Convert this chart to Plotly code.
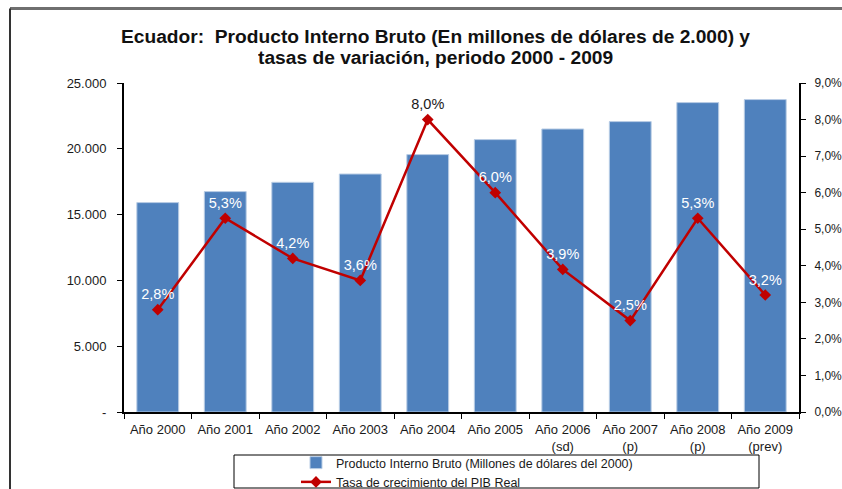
import plotly.graph_objects as go

categories = ["Año 2000", "Año 2001", "Año 2002", "Año 2003", "Año 2004",
              "Año 2005", "Año 2006<br>(sd)", "Año 2007<br>(p)", "Año 2008<br>(p)", "Año 2009<br>(prev)"]
pib = [15912, 16748, 17454, 18085, 19559, 20699, 21505, 22067, 23511, 23739]
tasa = [2.8, 5.3, 4.2, 3.6, 8.0, 6.0, 3.9, 2.5, 5.3, 3.2]
tasa_labels = ["2,8%", "5,3%", "4,2%", "3,6%", "8,0%", "6,0%", "3,9%", "2,5%", "5,3%", "3,2%"]
label_colors = ["white", "white", "white", "white", "#1a1a1a", "white", "white", "white", "white", "white"]

left_ticks = [0, 5000, 10000, 15000, 20000, 25000]
left_ticktext = ["-", "5.000", "10.000", "15.000", "20.000", "25.000"]
right_ticks = [0, 1, 2, 3, 4, 5, 6, 7, 8, 9]
right_ticktext = ["0,0%", "1,0%", "2,0%", "3,0%", "4,0%", "5,0%", "6,0%", "7,0%", "8,0%", "9,0%"]

title_line1 = "<b>Ecuador:  Producto Interno Bruto (En millones de dólares de 2.000) y</b>"
title_line2 = "<b>tasas de variación, periodo 2000 - 2009</b>"

FONT = "Liberation Sans, Arial, sans-serif"
W, H = 842, 489
L, R, T, B = 124, 43, 83, 77
PW, PH = W - L - R, H - T - B


def px(x):
    return (x - L) / PW


def py(y):
    return (H - B - y) / PH


fig = go.Figure()
fig.add_trace(go.Bar(
    x=categories, y=pib, name="Producto Interno Bruto (Millones de dólares del 2000)",
    marker=dict(color="#4F81BD", line=dict(color="#B9CDE5", width=1)),
    yaxis="y",
))
fig.add_trace(go.Scatter(
    x=categories, y=tasa, name="Tasa de crecimiento del PIB Real",
    mode="lines+markers+text", text=tasa_labels, textposition="top center",
    textfont=dict(color=label_colors, size=14.5, family=FONT),
    line=dict(color="#C00000", width=2.5),
    marker=dict(symbol="diamond", size=9, color="#C00000"),
    yaxis="y2", cliponaxis=False,
))

fig.update_layout(
    width=W, height=H,
    margin=dict(l=L, r=R, t=T, b=B, autoexpand=False),
    paper_bgcolor="white", plot_bgcolor="white",
    font=dict(family=FONT, size=13, color="#1a1a1a"),
    separators=",.",
    bargap=0.38,
    showlegend=True,
    annotations=[
        dict(text=title_line1, xref="paper", yref="paper", x=px(435), y=py(37),
             xanchor="center", yanchor="middle", showarrow=False, height=21, valign="middle",
             font=dict(size=19.2, family=FONT, color="#111")),
        dict(text=title_line2, xref="paper", yref="paper", x=px(435), y=py(58),
             xanchor="center", yanchor="middle", showarrow=False, height=21, valign="middle",
             font=dict(size=19.2, family=FONT, color="#111")),
    ],
    xaxis=dict(
        type="category", range=[-0.5, 9.5], showline=True, linecolor="black", linewidth=2,
        ticks="outside", tickson="boundaries", ticklen=5, tickcolor="black",
        tickfont=dict(size=13, family=FONT, color="#1a1a1a"), ticklabelstandoff=4,
        showgrid=False, zeroline=False, automargin=False,
    ),
    yaxis=dict(
        range=[0, 25000], tickvals=left_ticks, ticktext=left_ticktext,
        showline=True, linecolor="black", linewidth=2, ticks="outside", ticklen=5,
        tickcolor="black", showgrid=False, zeroline=False, automargin=False,
        tickfont=dict(size=13, family=FONT, color="#1a1a1a"), ticklabelstandoff=8,
    ),
    yaxis2=dict(
        range=[0, 9], tickvals=right_ticks, ticktext=right_ticktext,
        overlaying="y", side="right", showline=True, linecolor="black", linewidth=2,
        ticks="outside", ticklen=5, tickcolor="black", showgrid=False, zeroline=False,
        automargin=False, ticklabelstandoff=6,
        tickfont=dict(size=12, family=FONT, color="#1a1a1a"),
    ),
    legend=dict(
        xref="container", yref="container",
        x=296 / W, y=1 - 448 / H, xanchor="left", yanchor="top",
        borderwidth=0, bgcolor="rgba(0,0,0,0)",
        font=dict(size=12.5, family=FONT, color="#1a1a1a"),
        tracegroupgap=0, traceorder="normal",
    ),
    shapes=[
        dict(type="line", xref="paper", yref="paper", x0=px(10), x1=px(845), y0=py(8.5), y1=py(8.5),
             line=dict(color="#6f6f6f", width=3)),
        dict(type="line", xref="paper", yref="paper", x0=px(10), x1=px(10), y0=py(8.5), y1=py(492),
             line=dict(color="#333333", width=2)),
        dict(type="rect", xref="paper", yref="paper", x0=px(234), x1=px(759), y0=py(455), y1=py(488),
             line=dict(color="black", width=1), fillcolor="rgba(0,0,0,0)"),
    ],
)

fig.write_html("out.html", config={"displayModeBar": False},
               post_script="document.body.style.margin='0';document.body.style.overflow='hidden';")
